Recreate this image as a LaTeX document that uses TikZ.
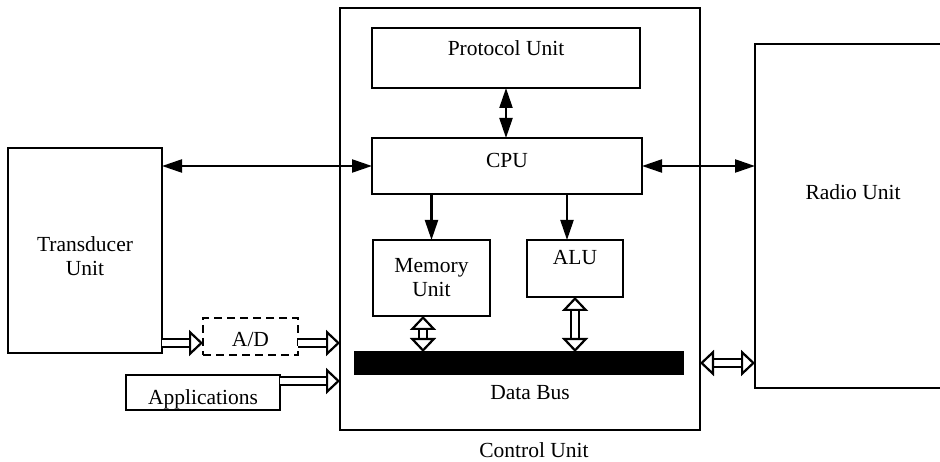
\documentclass[tikz,border=0pt]{standalone}
\usepackage{fontspec}
\setmainfont{Liberation Serif}
\usetikzlibrary{arrows.meta,calc}
\begin{document}
\begin{tikzpicture}[x=1pt,y=-1pt,
  box/.style={draw, line width=2.5pt, inner sep=0pt, outer sep=0pt, align=center,
    anchor=north west, font=\fontsize{21.5}{24}\selectfont},
  lbl/.style={inner sep=0pt, align=center, font=\fontsize{21.5}{24}\selectfont},
  twoway/.style={line width=2.2pt, {Triangle[length=20pt,width=13pt]}-{Triangle[length=20pt,width=13pt]}},
  oneway/.style={line width=2.2pt, -{Triangle[length=20pt,width=13pt]}},
  fat/.style={double distance=6pt, line width=2.2pt, -{Triangle[open,length=14pt,width=26pt,line width=2.2pt]}},
  fattwo/.style={double distance=6pt, line width=2.2pt, {Triangle[open,length=14pt,width=26pt,line width=2.2pt]}-{Triangle[open,length=14pt,width=26pt,line width=2.2pt]}}
]
\useasboundingbox (0,0) rectangle (940,462);
% boxes
\node[box, minimum width=360pt, minimum height=422pt] (cu) at (340,8) {};
\node[box, minimum width=268pt, minimum height=60pt, text height=14pt, text depth=18pt] (proto) at (372,28) {Protocol Unit};
\node[box, minimum width=270pt, minimum height=56pt, text height=14pt, text depth=10pt] (cpu) at (372,138) {CPU};
\node[box, minimum width=117pt, minimum height=76pt] (mem) at (373,240) {Memory\\Unit};
\node[box, minimum width=96pt, minimum height=57pt, text height=14pt, text depth=21pt] (alu) at (527,240) {ALU};
\node[box, fill=black, minimum width=328pt, minimum height=22pt] (bus) at (355,352) {};
\node[box, minimum width=154pt, minimum height=205pt, text height=50pt, text depth=0pt] (trans) at (8,148) {Transducer\\Unit};
\node[box, minimum width=200pt, minimum height=344pt] (radio) at (755,44) {};
\node[box, dashed, dash pattern=on 8pt off 5pt, minimum width=95pt, minimum height=37pt, text height=21pt, text depth=0pt] (ad) at (203,318) {A/D};
\node[box, minimum width=154pt, minimum height=35pt, text height=23pt, text depth=0pt] (apps) at (126,375) {Applications};
% labels
\node[lbl] (radiolbl) at (853,192) {Radio Unit};
\node[lbl] (buslbl) at (530,393) {Data Bus};
\node[lbl] (culbl) at (534,450) {Control Unit};
% helper coordinates
\coordinate (alux) at (567,0);
\coordinate (memx) at (423,0);
\coordinate (ady) at (0,343);
\coordinate (appy) at (0,381);
% connectors
\draw[twoway] (proto.south) -- (cpu.north -| proto.south);
\draw[twoway] (trans.east |- cpu.west) -- (cpu.west);
\draw[twoway] (cpu.east) -- (radio.west |- cpu.east);
\draw[oneway] (cpu.south -| mem.north) -- (mem.north);
\draw[oneway] (cpu.south -| alux) -- (alu.north -| alux);
\draw[fattwo] (mem.south -| memx) -- (bus.north -| memx);
\draw[fattwo] (alu.south) -- (bus.north -| alu.south);
\draw[fattwo] (cu.east |- bus.east) -- (radio.west |- bus.east);
\draw[fat] (trans.east |- ady) -- (ad.west |- ady);
\draw[fat] (ad.east |- ady) -- (cu.west |- ady);
\draw[fat] (apps.east |- appy) -- (cu.west |- appy);
\end{tikzpicture}
\end{document}
